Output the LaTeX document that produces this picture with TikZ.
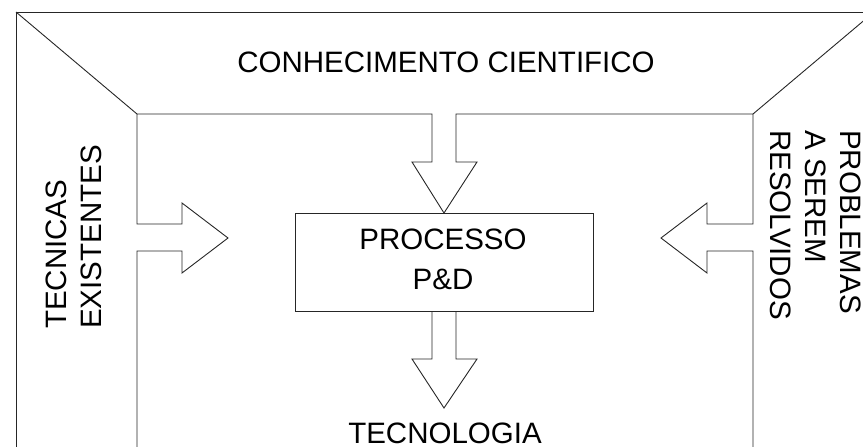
\documentclass[tikz,border=0pt]{standalone}
\usepackage{fontspec}
\setmainfont{Liberation Sans}
\tikzset{
  line/.style={draw=black!85, line width=0.9pt, line join=miter},
  lbl/.style={inner sep=0pt, font=\fontsize{29.5}{39.5}\selectfont},
}
\begin{document}
\begin{tikzpicture}[x=1pt,y=-1pt]
\useasboundingbox (0,0) rectangle (863,447);
\clip (0,0) rectangle (863,447);
% outer frame
\coordinate (otl) at (16,12);
\coordinate (otr) at (874,12);
\coordinate (itl) at (137,114);
\coordinate (itr) at (753,114);
\draw[line] (16,470) -- (otl) -- (otr) -- (874,470);
\draw[line] (otl) -- (itl);
\draw[line] (otr) -- (itr);
% inner outline with arrows
\draw[line] (137,470) -- (137,251) -- (182,251) -- (182,273) -- (228,238) -- (182,203) -- (182,224) -- (137,224)
  -- (itl) -- (432,114) -- (432,162) -- (412,162) -- (444,213) -- (477,162) -- (456,162) -- (456,114)
  -- (itr) -- (753,224) -- (707,224) -- (707,203) -- (661,238) -- (707,273) -- (707,251) -- (753,251) -- (753,470);
% process box
\node[line, minimum width=298pt, minimum height=98pt, inner sep=0pt] (proc) at (444,262) {};
\node[lbl, anchor=base, align=center] (proct) at (443,289.3) {PROCESSO\\P\&D};
% bottom arrow
\draw[line] (432,311) -- (432,359) -- (412,359) -- (444,408) -- (477,359) -- (456,359) -- (456,311);
% labels
\node[lbl, anchor=base] (conh) at (446,72.7) {CONHECIMENTO CIENTIFICO};
\node[lbl, anchor=base] (tec) at (445,443.3) {TECNOLOGIA};
\node[lbl, anchor=base west, rotate=90] (t1) at (66,329) {TECNICAS};
\node[lbl, anchor=base west, rotate=90] (t2) at (101.5,329) {EXISTENTES};
\node[lbl, anchor=base west, rotate=-90] (p1) at (840,130) {PROBLEMAS};
\node[lbl, anchor=base west, rotate=-90] (p2) at (805,130) {A SEREM};
\node[lbl, anchor=base west, rotate=-90] (p3) at (770,130) {RESOLVIDOS};
\end{tikzpicture}
\end{document}
